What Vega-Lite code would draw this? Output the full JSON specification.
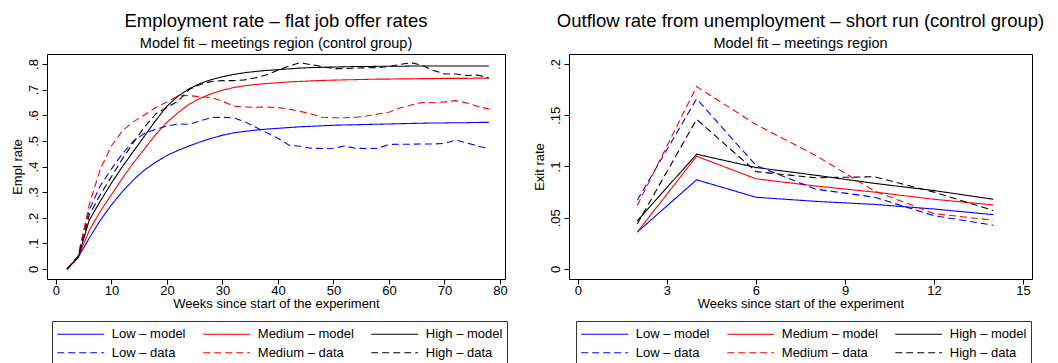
{
  "$schema": "https://vega.github.io/schema/vega-lite/v6.json",
  "background": "white",
  "padding": {"left": 10, "top": 11, "right": 0, "bottom": 0},
  "spacing": 24,
  "config": {
    "font": "Liberation Sans",
    "view": {"stroke": "black", "strokeWidth": 1},
    "axis": {
      "domain": false, "grid": false,
      "tickColor": "black", "tickSize": 5, "tickWidth": 1,
      "labelColor": "black", "labelFontSize": 13, "labelFont": "Liberation Sans",
      "titleColor": "black", "titleFontSize": 13, "titleFont": "Liberation Sans", "titleFontWeight": "normal",
      "labelPadding": 2, "titlePadding": 3
    },
    "axisX": {"labelPadding": 0, "titlePadding": 0},
    "axisY": {"labelAngle": -90, "labelAlign": "center", "labelBaseline": "bottom"},
    "title": {
      "fontSize": 18.5, "fontWeight": "normal", "color": "black", "font": "Liberation Sans",
      "subtitleFontSize": 14.5, "subtitleColor": "black", "subtitleFont": "Liberation Sans",
      "subtitlePadding": 6, "offset": 4, "anchor": "middle"
    },
    "legend": {
      "orient": "none", "title": null, "columns": 3, "direction": "horizontal",
      "strokeColor": "#333333", "padding": 4.5,
      "symbolType": "M-3,0H3", "symbolSize": 245, "symbolOffset": 15.7, "symbolStrokeWidth": 1.1,
      "labelFontSize": 13, "labelFont": "Liberation Sans", "labelColor": "black",
      "labelOffset": 22.6, "columnPadding": 14, "rowPadding": 2.7
    },
    "line": {"strokeWidth": 1.1}
  },
  "datasets": {
    "employment": [
      {"week": 2, "series": "Low – model", "rate": 0},
      {"week": 4, "series": "Low – model", "rate": 0.045},
      {"week": 6, "series": "Low – model", "rate": 0.12},
      {"week": 8, "series": "Low – model", "rate": 0.19},
      {"week": 10, "series": "Low – model", "rate": 0.25},
      {"week": 12, "series": "Low – model", "rate": 0.303},
      {"week": 14, "series": "Low – model", "rate": 0.348},
      {"week": 16, "series": "Low – model", "rate": 0.387},
      {"week": 18, "series": "Low – model", "rate": 0.417},
      {"week": 20, "series": "Low – model", "rate": 0.443},
      {"week": 22, "series": "Low – model", "rate": 0.463},
      {"week": 24, "series": "Low – model", "rate": 0.48},
      {"week": 26, "series": "Low – model", "rate": 0.496},
      {"week": 28, "series": "Low – model", "rate": 0.51},
      {"week": 30, "series": "Low – model", "rate": 0.522},
      {"week": 32, "series": "Low – model", "rate": 0.531},
      {"week": 34, "series": "Low – model", "rate": 0.537},
      {"week": 36, "series": "Low – model", "rate": 0.542},
      {"week": 38, "series": "Low – model", "rate": 0.546},
      {"week": 40, "series": "Low – model", "rate": 0.549},
      {"week": 42, "series": "Low – model", "rate": 0.552},
      {"week": 44, "series": "Low – model", "rate": 0.555},
      {"week": 46, "series": "Low – model", "rate": 0.557},
      {"week": 48, "series": "Low – model", "rate": 0.559},
      {"week": 50, "series": "Low – model", "rate": 0.561},
      {"week": 52, "series": "Low – model", "rate": 0.562},
      {"week": 54, "series": "Low – model", "rate": 0.563},
      {"week": 56, "series": "Low – model", "rate": 0.564},
      {"week": 58, "series": "Low – model", "rate": 0.565},
      {"week": 60, "series": "Low – model", "rate": 0.566},
      {"week": 62, "series": "Low – model", "rate": 0.567},
      {"week": 64, "series": "Low – model", "rate": 0.568},
      {"week": 66, "series": "Low – model", "rate": 0.569},
      {"week": 68, "series": "Low – model", "rate": 0.57},
      {"week": 70, "series": "Low – model", "rate": 0.57},
      {"week": 72, "series": "Low – model", "rate": 0.571},
      {"week": 74, "series": "Low – model", "rate": 0.571},
      {"week": 76, "series": "Low – model", "rate": 0.572},
      {"week": 78, "series": "Low – model", "rate": 0.572},

      {"week": 2, "series": "Medium – model", "rate": 0},
      {"week": 4, "series": "Medium – model", "rate": 0.045},
      {"week": 6, "series": "Medium – model", "rate": 0.15},
      {"week": 8, "series": "Medium – model", "rate": 0.225},
      {"week": 10, "series": "Medium – model", "rate": 0.29},
      {"week": 12, "series": "Medium – model", "rate": 0.355},
      {"week": 14, "series": "Medium – model", "rate": 0.415},
      {"week": 16, "series": "Medium – model", "rate": 0.47},
      {"week": 18, "series": "Medium – model", "rate": 0.525},
      {"week": 20, "series": "Medium – model", "rate": 0.572},
      {"week": 22, "series": "Medium – model", "rate": 0.61},
      {"week": 24, "series": "Medium – model", "rate": 0.643},
      {"week": 26, "series": "Medium – model", "rate": 0.666},
      {"week": 28, "series": "Medium – model", "rate": 0.684},
      {"week": 30, "series": "Medium – model", "rate": 0.698},
      {"week": 32, "series": "Medium – model", "rate": 0.708},
      {"week": 34, "series": "Medium – model", "rate": 0.715},
      {"week": 36, "series": "Medium – model", "rate": 0.72},
      {"week": 38, "series": "Medium – model", "rate": 0.724},
      {"week": 40, "series": "Medium – model", "rate": 0.727},
      {"week": 42, "series": "Medium – model", "rate": 0.73},
      {"week": 44, "series": "Medium – model", "rate": 0.732},
      {"week": 46, "series": "Medium – model", "rate": 0.734},
      {"week": 48, "series": "Medium – model", "rate": 0.736},
      {"week": 50, "series": "Medium – model", "rate": 0.737},
      {"week": 52, "series": "Medium – model", "rate": 0.738},
      {"week": 54, "series": "Medium – model", "rate": 0.739},
      {"week": 56, "series": "Medium – model", "rate": 0.74},
      {"week": 58, "series": "Medium – model", "rate": 0.741},
      {"week": 60, "series": "Medium – model", "rate": 0.741},
      {"week": 62, "series": "Medium – model", "rate": 0.742},
      {"week": 64, "series": "Medium – model", "rate": 0.742},
      {"week": 66, "series": "Medium – model", "rate": 0.743},
      {"week": 68, "series": "Medium – model", "rate": 0.743},
      {"week": 70, "series": "Medium – model", "rate": 0.744},
      {"week": 72, "series": "Medium – model", "rate": 0.744},
      {"week": 74, "series": "Medium – model", "rate": 0.744},
      {"week": 76, "series": "Medium – model", "rate": 0.745},
      {"week": 78, "series": "Medium – model", "rate": 0.745},

      {"week": 2, "series": "High – model", "rate": 0},
      {"week": 4, "series": "High – model", "rate": 0.045},
      {"week": 6, "series": "High – model", "rate": 0.19},
      {"week": 8, "series": "High – model", "rate": 0.265},
      {"week": 10, "series": "High – model", "rate": 0.335},
      {"week": 12, "series": "High – model", "rate": 0.4},
      {"week": 14, "series": "High – model", "rate": 0.46},
      {"week": 16, "series": "High – model", "rate": 0.52},
      {"week": 18, "series": "High – model", "rate": 0.58},
      {"week": 20, "series": "High – model", "rate": 0.635},
      {"week": 22, "series": "High – model", "rate": 0.675},
      {"week": 24, "series": "High – model", "rate": 0.703},
      {"week": 26, "series": "High – model", "rate": 0.724},
      {"week": 28, "series": "High – model", "rate": 0.739},
      {"week": 30, "series": "High – model", "rate": 0.75},
      {"week": 32, "series": "High – model", "rate": 0.759},
      {"week": 34, "series": "High – model", "rate": 0.766},
      {"week": 36, "series": "High – model", "rate": 0.771},
      {"week": 38, "series": "High – model", "rate": 0.775},
      {"week": 40, "series": "High – model", "rate": 0.778},
      {"week": 42, "series": "High – model", "rate": 0.781},
      {"week": 44, "series": "High – model", "rate": 0.784},
      {"week": 46, "series": "High – model", "rate": 0.786},
      {"week": 48, "series": "High – model", "rate": 0.787},
      {"week": 50, "series": "High – model", "rate": 0.788},
      {"week": 52, "series": "High – model", "rate": 0.789},
      {"week": 54, "series": "High – model", "rate": 0.79},
      {"week": 56, "series": "High – model", "rate": 0.79},
      {"week": 58, "series": "High – model", "rate": 0.791},
      {"week": 60, "series": "High – model", "rate": 0.791},
      {"week": 62, "series": "High – model", "rate": 0.791},
      {"week": 64, "series": "High – model", "rate": 0.792},
      {"week": 66, "series": "High – model", "rate": 0.792},
      {"week": 68, "series": "High – model", "rate": 0.792},
      {"week": 70, "series": "High – model", "rate": 0.792},
      {"week": 72, "series": "High – model", "rate": 0.792},
      {"week": 74, "series": "High – model", "rate": 0.792},
      {"week": 76, "series": "High – model", "rate": 0.792},
      {"week": 78, "series": "High – model", "rate": 0.792},

      {"week": 2, "series": "Low – data", "rate": 0},
      {"week": 4, "series": "Low – data", "rate": 0.05},
      {"week": 6, "series": "Low – data", "rate": 0.23},
      {"week": 8, "series": "Low – data", "rate": 0.325},
      {"week": 10, "series": "Low – data", "rate": 0.39},
      {"week": 12, "series": "Low – data", "rate": 0.45},
      {"week": 14, "series": "Low – data", "rate": 0.5},
      {"week": 16, "series": "Low – data", "rate": 0.53},
      {"week": 18, "series": "Low – data", "rate": 0.545},
      {"week": 20, "series": "Low – data", "rate": 0.558},
      {"week": 22, "series": "Low – data", "rate": 0.566},
      {"week": 24, "series": "Low – data", "rate": 0.565},
      {"week": 26, "series": "Low – data", "rate": 0.578},
      {"week": 28, "series": "Low – data", "rate": 0.591},
      {"week": 30, "series": "Low – data", "rate": 0.592},
      {"week": 32, "series": "Low – data", "rate": 0.59},
      {"week": 34, "series": "Low – data", "rate": 0.575},
      {"week": 36, "series": "Low – data", "rate": 0.553},
      {"week": 38, "series": "Low – data", "rate": 0.532},
      {"week": 40, "series": "Low – data", "rate": 0.51},
      {"week": 42, "series": "Low – data", "rate": 0.483},
      {"week": 44, "series": "Low – data", "rate": 0.479},
      {"week": 46, "series": "Low – data", "rate": 0.471},
      {"week": 48, "series": "Low – data", "rate": 0.47},
      {"week": 50, "series": "Low – data", "rate": 0.471},
      {"week": 52, "series": "Low – data", "rate": 0.48},
      {"week": 54, "series": "Low – data", "rate": 0.471},
      {"week": 56, "series": "Low – data", "rate": 0.47},
      {"week": 58, "series": "Low – data", "rate": 0.471},
      {"week": 60, "series": "Low – data", "rate": 0.486},
      {"week": 62, "series": "Low – data", "rate": 0.487},
      {"week": 64, "series": "Low – data", "rate": 0.487},
      {"week": 66, "series": "Low – data", "rate": 0.488},
      {"week": 68, "series": "Low – data", "rate": 0.488},
      {"week": 70, "series": "Low – data", "rate": 0.49},
      {"week": 72, "series": "Low – data", "rate": 0.503},
      {"week": 74, "series": "Low – data", "rate": 0.492},
      {"week": 76, "series": "Low – data", "rate": 0.48},
      {"week": 78, "series": "Low – data", "rate": 0.47},

      {"week": 2, "series": "Medium – data", "rate": 0},
      {"week": 4, "series": "Medium – data", "rate": 0.05},
      {"week": 6, "series": "Medium – data", "rate": 0.25},
      {"week": 8, "series": "Medium – data", "rate": 0.39},
      {"week": 10, "series": "Medium – data", "rate": 0.48},
      {"week": 12, "series": "Medium – data", "rate": 0.54},
      {"week": 14, "series": "Medium – data", "rate": 0.575},
      {"week": 16, "series": "Medium – data", "rate": 0.602},
      {"week": 18, "series": "Medium – data", "rate": 0.63},
      {"week": 20, "series": "Medium – data", "rate": 0.652},
      {"week": 22, "series": "Medium – data", "rate": 0.675},
      {"week": 24, "series": "Medium – data", "rate": 0.677},
      {"week": 26, "series": "Medium – data", "rate": 0.672},
      {"week": 28, "series": "Medium – data", "rate": 0.669},
      {"week": 30, "series": "Medium – data", "rate": 0.655},
      {"week": 32, "series": "Medium – data", "rate": 0.636},
      {"week": 34, "series": "Medium – data", "rate": 0.632},
      {"week": 36, "series": "Medium – data", "rate": 0.631},
      {"week": 38, "series": "Medium – data", "rate": 0.632},
      {"week": 40, "series": "Medium – data", "rate": 0.63},
      {"week": 42, "series": "Medium – data", "rate": 0.624},
      {"week": 44, "series": "Medium – data", "rate": 0.615},
      {"week": 46, "series": "Medium – data", "rate": 0.605},
      {"week": 48, "series": "Medium – data", "rate": 0.592},
      {"week": 50, "series": "Medium – data", "rate": 0.59},
      {"week": 52, "series": "Medium – data", "rate": 0.59},
      {"week": 54, "series": "Medium – data", "rate": 0.592},
      {"week": 56, "series": "Medium – data", "rate": 0.597},
      {"week": 58, "series": "Medium – data", "rate": 0.605},
      {"week": 60, "series": "Medium – data", "rate": 0.612},
      {"week": 62, "series": "Medium – data", "rate": 0.628},
      {"week": 64, "series": "Medium – data", "rate": 0.64},
      {"week": 66, "series": "Medium – data", "rate": 0.65},
      {"week": 68, "series": "Medium – data", "rate": 0.649},
      {"week": 70, "series": "Medium – data", "rate": 0.652},
      {"week": 72, "series": "Medium – data", "rate": 0.657},
      {"week": 74, "series": "Medium – data", "rate": 0.648},
      {"week": 76, "series": "Medium – data", "rate": 0.635},
      {"week": 78, "series": "Medium – data", "rate": 0.624},

      {"week": 2, "series": "High – data", "rate": 0},
      {"week": 4, "series": "High – data", "rate": 0.045},
      {"week": 6, "series": "High – data", "rate": 0.21},
      {"week": 8, "series": "High – data", "rate": 0.29},
      {"week": 10, "series": "High – data", "rate": 0.36},
      {"week": 12, "series": "High – data", "rate": 0.43},
      {"week": 14, "series": "High – data", "rate": 0.495},
      {"week": 16, "series": "High – data", "rate": 0.555},
      {"week": 18, "series": "High – data", "rate": 0.605},
      {"week": 20, "series": "High – data", "rate": 0.63},
      {"week": 22, "series": "High – data", "rate": 0.655},
      {"week": 24, "series": "High – data", "rate": 0.7},
      {"week": 26, "series": "High – data", "rate": 0.72},
      {"week": 28, "series": "High – data", "rate": 0.732},
      {"week": 30, "series": "High – data", "rate": 0.735},
      {"week": 32, "series": "High – data", "rate": 0.735},
      {"week": 34, "series": "High – data", "rate": 0.738},
      {"week": 36, "series": "High – data", "rate": 0.746},
      {"week": 38, "series": "High – data", "rate": 0.758},
      {"week": 40, "series": "High – data", "rate": 0.776},
      {"week": 42, "series": "High – data", "rate": 0.792},
      {"week": 44, "series": "High – data", "rate": 0.805},
      {"week": 46, "series": "High – data", "rate": 0.797},
      {"week": 48, "series": "High – data", "rate": 0.79},
      {"week": 50, "series": "High – data", "rate": 0.782},
      {"week": 52, "series": "High – data", "rate": 0.782},
      {"week": 54, "series": "High – data", "rate": 0.784},
      {"week": 56, "series": "High – data", "rate": 0.785},
      {"week": 58, "series": "High – data", "rate": 0.786},
      {"week": 60, "series": "High – data", "rate": 0.79},
      {"week": 62, "series": "High – data", "rate": 0.798},
      {"week": 64, "series": "High – data", "rate": 0.805},
      {"week": 66, "series": "High – data", "rate": 0.795},
      {"week": 68, "series": "High – data", "rate": 0.775},
      {"week": 70, "series": "High – data", "rate": 0.761},
      {"week": 72, "series": "High – data", "rate": 0.761},
      {"week": 74, "series": "High – data", "rate": 0.755},
      {"week": 76, "series": "High – data", "rate": 0.757},
      {"week": 78, "series": "High – data", "rate": 0.745}
    ],
    "outflow": [
      {"week": 2, "series": "Low – model", "rate": 0.036},
      {"week": 4, "series": "Low – model", "rate": 0.087},
      {"week": 6, "series": "Low – model", "rate": 0.07},
      {"week": 8, "series": "Low – model", "rate": 0.066},
      {"week": 10, "series": "Low – model", "rate": 0.063},
      {"week": 12, "series": "Low – model", "rate": 0.0585},
      {"week": 14, "series": "Low – model", "rate": 0.053},
      {"week": 2, "series": "Medium – model", "rate": 0.036},
      {"week": 4, "series": "Medium – model", "rate": 0.11},
      {"week": 6, "series": "Medium – model", "rate": 0.088},
      {"week": 8, "series": "Medium – model", "rate": 0.081},
      {"week": 10, "series": "Medium – model", "rate": 0.075},
      {"week": 12, "series": "Medium – model", "rate": 0.068},
      {"week": 14, "series": "Medium – model", "rate": 0.0625},
      {"week": 2, "series": "High – model", "rate": 0.047},
      {"week": 4, "series": "High – model", "rate": 0.112},
      {"week": 6, "series": "High – model", "rate": 0.099},
      {"week": 8, "series": "High – model", "rate": 0.0915},
      {"week": 10, "series": "High – model", "rate": 0.0835},
      {"week": 12, "series": "High – model", "rate": 0.0765},
      {"week": 14, "series": "High – model", "rate": 0.068},
      {"week": 2, "series": "Low – data", "rate": 0.067},
      {"week": 4, "series": "Low – data", "rate": 0.166},
      {"week": 6, "series": "Low – data", "rate": 0.101},
      {"week": 8, "series": "Low – data", "rate": 0.078},
      {"week": 10, "series": "Low – data", "rate": 0.07},
      {"week": 12, "series": "Low – data", "rate": 0.052},
      {"week": 14, "series": "Low – data", "rate": 0.0427},
      {"week": 2, "series": "Medium – data", "rate": 0.062},
      {"week": 4, "series": "Medium – data", "rate": 0.178},
      {"week": 6, "series": "Medium – data", "rate": 0.141},
      {"week": 8, "series": "Medium – data", "rate": 0.111},
      {"week": 10, "series": "Medium – data", "rate": 0.076},
      {"week": 12, "series": "Medium – data", "rate": 0.054},
      {"week": 14, "series": "Medium – data", "rate": 0.0476},
      {"week": 2, "series": "High – data", "rate": 0.044},
      {"week": 4, "series": "High – data", "rate": 0.146},
      {"week": 6, "series": "High – data", "rate": 0.095},
      {"week": 8, "series": "High – data", "rate": 0.089},
      {"week": 10, "series": "High – data", "rate": 0.09},
      {"week": 12, "series": "High – data", "rate": 0.075},
      {"week": 14, "series": "High – data", "rate": 0.057}
    ]
  },
  "hconcat": [
    {
      "title": {"text": "Employment rate – flat job offer rates", "subtitle": "Model fit – meetings region (control group)"},
      "width": 458,
      "height": 225,
      "data": {"name": "employment"},
      "mark": {"type": "line", "clip": true},
      "encoding": {
        "x": {
          "field": "week", "type": "quantitative",
          "scale": {"domain": [-1.6, 80.9], "nice": false, "zero": false},
          "axis": {"values": [0, 10, 20, 30, 40, 50, 60, 70, 80], "title": "Weeks since start of the experiment"}
        },
        "y": {
          "field": "rate", "type": "quantitative",
          "scale": {"domain": [-0.039, 0.839], "nice": false, "zero": false},
          "axis": {
            "values": [0, 0.1, 0.2, 0.3, 0.4, 0.5, 0.6, 0.7, 0.8],
            "labelExpr": "datum.value == 0 ? '0' : slice(format(datum.value, '~g'), 1)",
            "title": "Empl rate"
          }
        },
        "color": {
          "field": "series", "type": "nominal",
          "scale": {
            "domain": ["Low – model", "Medium – model", "High – model", "Low – data", "Medium – data", "High – data"],
            "range": ["#0000ff", "#ff0000", "#000000", "#0000ff", "#ff0000", "#000000"]
          },
          "legend": {"legendX": 5, "legendY": 267}
        },
        "strokeDash": {
          "field": "series", "type": "nominal",
          "scale": {
            "domain": ["Low – model", "Medium – model", "High – model", "Low – data", "Medium – data", "High – data"],
            "range": [[1, 0], [1, 0], [1, 0], [7, 4], [7, 4], [7, 4]]
          },
          "legend": {"legendX": 5, "legendY": 267}
        }
      }
    },
    {
      "title": {"text": "Outflow rate from unemployment – short run (control group)", "subtitle": "Model fit – meetings region"},
      "width": 463,
      "height": 225,
      "data": {"name": "outflow"},
      "mark": {"type": "line", "clip": true},
      "encoding": {
        "x": {
          "field": "week", "type": "quantitative",
          "scale": {"domain": [-0.3, 15.3], "nice": false, "zero": false},
          "axis": {"values": [0, 3, 6, 9, 12, 15], "title": "Weeks since start of the experiment"}
        },
        "y": {
          "field": "rate", "type": "quantitative",
          "scale": {"domain": [-0.0098, 0.2098], "nice": false, "zero": false},
          "axis": {
            "values": [0, 0.05, 0.1, 0.15, 0.2],
            "labelExpr": "datum.value == 0 ? '0' : slice(format(datum.value, '~g'), 1)",
            "title": "Exit rate"
          }
        },
        "color": {
          "field": "series", "type": "nominal",
          "scale": {
            "domain": ["Low – model", "Medium – model", "High – model", "Low – data", "Medium – data", "High – data"],
            "range": ["#0000ff", "#ff0000", "#000000", "#0000ff", "#ff0000", "#000000"]
          },
          "legend": {"legendX": 7, "legendY": 267}
        },
        "strokeDash": {
          "field": "series", "type": "nominal",
          "scale": {
            "domain": ["Low – model", "Medium – model", "High – model", "Low – data", "Medium – data", "High – data"],
            "range": [[1, 0], [1, 0], [1, 0], [7, 4], [7, 4], [7, 4]]
          },
          "legend": {"legendX": 7, "legendY": 267}
        }
      }
    }
  ],
  "resolve": {
    "scale": {"x": "independent", "y": "independent", "color": "independent", "strokeDash": "independent"},
    "legend": {"color": "independent", "strokeDash": "independent"}
  }
}
